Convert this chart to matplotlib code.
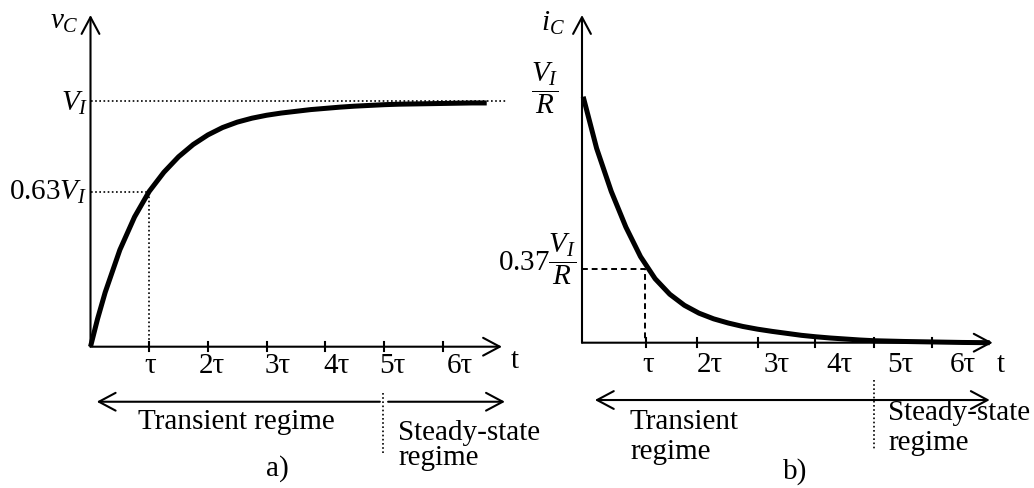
import matplotlib.pyplot as plt
import numpy as np

plt.rcParams['font.family'] = 'Liberation Serif'
plt.rcParams['mathtext.fontset'] = 'custom'
plt.rcParams['mathtext.rm'] = 'Liberation Serif'
plt.rcParams['mathtext.it'] = 'Liberation Serif:italic'

W, H = 1034, 488
FS = 21

# values, time in units of tau
vc_t = [0, 0.12, 0.25, 0.5, 0.75, 1.0, 1.25, 1.5, 1.75, 2.0, 2.25, 2.5, 2.75, 3.0, 3.25,
        3.5, 3.75, 4.0, 4.25, 4.5, 4.75, 5.0, 5.25, 5.5, 5.75, 6.0, 6.25, 6.5, 6.75]
vc_v = [0, 0.113, 0.221, 0.394, 0.528, 0.632, 0.71, 0.773, 0.823, 0.862, 0.892, 0.914,
        0.93, 0.942, 0.951, 0.958, 0.965, 0.97, 0.975, 0.979, 0.982, 0.985, 0.987, 0.988,
        0.989, 0.99, 0.991, 0.992, 0.992]

ic_t = [0.02, 0.25, 0.5, 0.75, 1.0, 1.25, 1.5, 1.75, 2.0, 2.25, 2.5, 2.75, 3.0, 3.25,
        3.5, 3.75, 4.0, 4.25, 4.5, 4.75, 5.0, 5.5, 6.0, 6.5, 6.97]
ic_v = [1.0, 0.79, 0.615, 0.47, 0.35, 0.26, 0.197, 0.152, 0.12, 0.097, 0.08, 0.066,
        0.055, 0.046, 0.038, 0.03, 0.024, 0.019, 0.015, 0.011, 0.008, 0.005, 0.003,
        0.001, 0.0]

tick_pos = [1, 2, 3, 4, 5, 6]
tick_labels = ['τ', '2τ', '3τ', '4τ', '5τ', '6τ']

vc_mark = 0.63   # 0.63 V_I at t = tau
ic_mark_t, ic_mark_v = 1.08, 0.30   # 0.37 V_I/R marker as drawn


def make_axes(fig, px0, px1, ox, sx, oy, sy):
    # axes covering pixel columns px0..px1 of the whole height,
    # data origin at pixel (ox, oy), sx px per tau, sy px per unit
    ax = fig.add_axes([px0 / W, 0, (px1 - px0) / W, 1])
    ax.set_xlim((px0 - ox) / sx, (px1 - ox) / sx)
    ax.set_ylim((oy - H) / sy, oy / sy)
    ax.axis('off')
    return ax


def arrow(ax, start, end, style='->'):
    ax.annotate('', xy=end, xytext=start, annotation_clip=False,
                arrowprops=dict(arrowstyle=style + ',head_length=0.6,head_width=0.32',
                                lw=1.5, color='k', shrinkA=0, shrinkB=0,
                                mutation_scale=20))


def axes_frame(ax, xtip, ytip, tick_x):
    arrow(ax, (0, 0), (xtip, 0))
    arrow(ax, (0, 0), (0, ytip))
    for x in tick_x:
        ax.plot([x, x], [-0.018, 0.018], color='k', lw=1.5, clip_on=False)


fig = plt.figure(figsize=(W / 100, H / 100), dpi=100)

# a) capacitor voltage
ax = make_axes(fig, 0, 517, 90.5, 58.7, 346.7, 245.7)
axes_frame(ax, 7.01, 1.35, tick_pos)
ax.plot([0, 7.07], [1, 1], color='k', lw=1.2, ls=(0, (1, 1.5)), clip_on=False)
ax.plot([0, 1, 1], [vc_mark, vc_mark, 0], color='k', lw=1.2, ls=(0, (1, 1.5)), clip_on=False)
ax.plot(vc_t, vc_v, color='k', lw=3.6, solid_capstyle='butt',
        solid_joinstyle='round', clip_on=False)
for x, lab in zip([1.01, 2.06, 3.19, 4.19, 5.15, 6.3], tick_labels):
    ax.text(x, -0.08, lab, fontsize=FS, ha='center', va='center')
ax.text(7.23, -0.06, 't', fontsize=FS, ha='center', va='center')
ax.text(-0.2, 1.32, r'$v_C$', fontsize=FS, ha='right', va='center')
ax.text(-0.04, 0.99, r'$V_I$', fontsize=FS, ha='right', va='center')
ax.text(-0.05, vc_mark, r'$\mathrm{0.63}V_I$', fontsize=FS, ha='right', va='center')
arrow(ax, (4.93, -0.224), (0.106, -0.224))
arrow(ax, (5.07, -0.224), (7.06, -0.224))
ax.plot([4.99, 4.99], [-0.188, -0.433], color='k', lw=1.2, ls=(0, (1, 1.5)), clip_on=False)
ax.text(2.49, -0.305, 'Transient regime', fontsize=FS, ha='center', va='center')
ax.text(5.24, -0.35, 'Steady-state', fontsize=FS, ha='left', va='center')
ax.text(5.24, -0.455, 'regime', fontsize=FS, ha='left', va='center')
ax.text(3.19, -0.495, 'a)', fontsize=FS, ha='center', va='center')

# b) capacitor current
ax = make_axes(fig, 517, 1034, 582, 58.5, 342.7, 246)
axes_frame(ax, 7.02, 1.332, [1.09, 1.96, 3.0, 3.98, 4.99, 5.98])
ax.plot([0, ic_mark_t, ic_mark_t], [ic_mark_v, ic_mark_v, 0], color='k', lw=1.4,
        ls=(0, (3, 2)), clip_on=False)
ax.plot(ic_t, ic_v, color='k', lw=3.6, solid_capstyle='butt',
        solid_joinstyle='round', clip_on=False)
for x, lab in zip([1.13, 2.19, 3.33, 4.41, 5.44, 6.51], tick_labels):
    ax.text(x, -0.09, lab, fontsize=FS, ha='center', va='center')
ax.text(7.15, -0.09, 't', fontsize=FS, ha='center', va='center')
ax.text(-0.29, 1.30, r'$i_C$', fontsize=FS, ha='right', va='center')
ax.text(-0.63, 1.035, r'$\dfrac{V_I}{R}$', fontsize=FS, ha='center', va='center')
ax.text(-0.1, 0.34, r'$\mathrm{0.37}\dfrac{V_I}{R}$', fontsize=FS, ha='right', va='center')
arrow(ax, (3.5, -0.233), (0.22, -0.233))
arrow(ax, (3.5, -0.233), (6.97, -0.233))
ax.plot([4.99, 4.99], [-0.152, -0.436], color='k', lw=1.2, ls=(0, (1, 1.5)), clip_on=False)
ax.text(0.82, -0.321, 'Transient', fontsize=FS, ha='left', va='center')
ax.text(0.82, -0.443, 'regime', fontsize=FS, ha='left', va='center')
ax.text(5.23, -0.286, 'Steady-state', fontsize=FS, ha='left', va='center')
ax.text(5.23, -0.407, 'regime', fontsize=FS, ha='left', va='center')
ax.text(3.64, -0.524, 'b)', fontsize=FS, ha='center', va='center')

fig.savefig('out.png', dpi=100)
